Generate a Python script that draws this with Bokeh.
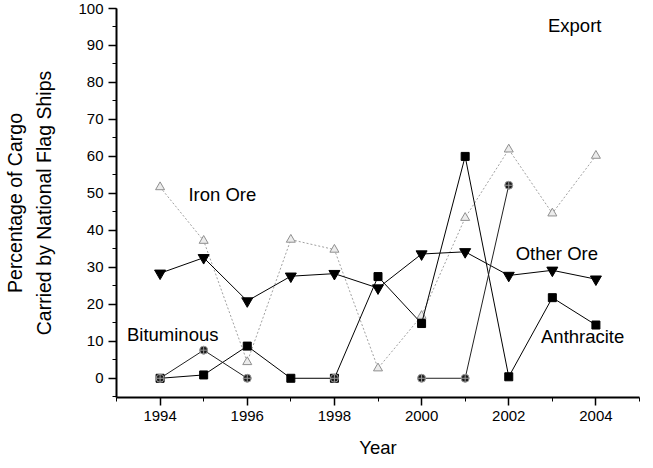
from bokeh.plotting import figure
from bokeh.embed import file_html
from bokeh.resources import INLINE
from bokeh.models import SingleIntervalTicker, Label, Range1d
import math

years = [1994, 1995, 1996, 1997, 1998, 1999, 2000, 2001, 2002, 2003, 2004]
iron_ore = [51.7, 37.2, 4.4, 37.5, 34.8, 2.7, 16.9, 43.4, 61.9, 44.6, 60.2]
other_ore = [28.4, 32.6, 20.9, 27.6, 28.3, 24.4, 33.6, 34.2, 27.8, 29.2, 26.8]
anthracite = [0.0, 0.9, 8.7, 0.0, 0.0, 27.5, 14.8, 60.0, 0.4, 21.8, 14.4]
bituminous = [0.0, 7.6, 0.0, math.nan, 0.0, math.nan, 0.0, 0.0, 52.2, math.nan, math.nan]

FONT = "Liberation Sans"

p = figure(width=645, height=460, output_backend="svg", toolbar_location=None,
           x_range=Range1d(1993, 2005), y_range=Range1d(-5.2, 100),
           min_border_left=114, min_border_right=6, min_border_top=8, min_border_bottom=50)
p.outline_line_color = None
p.grid.visible = False
p.background_fill_color = "white"

# Iron Ore: gray dotted line with light triangles
p.line(years, iron_ore, line_color="#a0a0a0", line_width=1, line_dash="2 2")
p.scatter(years, iron_ore, marker="triangle", size=9, fill_color="#ececec",
          line_color="#8f8f8f", line_width=1)

# Other Ore
p.line(years, other_ore, line_color="black", line_width=1)
p.scatter(years, other_ore, marker="inverted_triangle", size=11, fill_color="black",
          line_color="black")

# Anthracite
p.line(years, anthracite, line_color="black", line_width=1)
p.scatter(years, anthracite, marker="square", size=8, fill_color="black", line_color="black")

# Bituminous
p.line(years, bituminous, line_color="#222222", line_width=1)
p.scatter(years, bituminous, marker="circle_cross", size=8, fill_color="#1a1a1a",
          line_color="#9a9a9a", line_width=1)

labels = [("Iron Ore", 1994.65, 49.6), ("Bituminous", 1993.24, 11.8),
          ("Other Ore", 2002.16, 33.8), ("Anthracite", 2002.74, 11.2),
          ("Export", 2002.9, 95.5)]
for t, lx, ly in labels:
    p.add_layout(Label(x=lx, y=ly, text=t, text_font=FONT, text_font_size="18.5px",
                       text_align="left", text_baseline="middle", text_color="black"))

# Axes
p.xaxis.ticker = SingleIntervalTicker(interval=2, num_minor_ticks=2)
p.yaxis.ticker = SingleIntervalTicker(interval=10, num_minor_ticks=2)
for ax in (p.xaxis[0], p.yaxis[0]):
    ax.axis_line_width = 2
    ax.axis_line_color = "black"
    ax.major_tick_in = 0
    ax.major_tick_out = 8
    ax.minor_tick_in = 0
    ax.minor_tick_out = 4
    ax.major_tick_line_width = 1.5
    ax.minor_tick_line_width = 1
    ax.major_tick_line_color = "black"
    ax.minor_tick_line_color = "black"
    ax.major_label_text_font = FONT
    ax.major_label_text_font_size = "15px"
    ax.major_label_text_color = "black"
    ax.axis_label_text_font = FONT
    ax.axis_label_text_font_style = "normal"
    ax.axis_label_text_color = "black"

p.xaxis.major_label_standoff = 5
p.yaxis.major_label_standoff = 5
p.xaxis.axis_label = "Year"
p.xaxis.axis_label_text_font_size = "18.5px"
p.xaxis.axis_label_standoff = 13
p.yaxis.axis_label = "Percentage of Cargo\nCarried by National Flag Ships"
p.yaxis.axis_label_text_font_size = "19.5px"
p.yaxis.axis_label_text_line_height = 1.35
p.yaxis.axis_label_standoff = 20

open("out.html", "w").write(file_html(p, INLINE))
